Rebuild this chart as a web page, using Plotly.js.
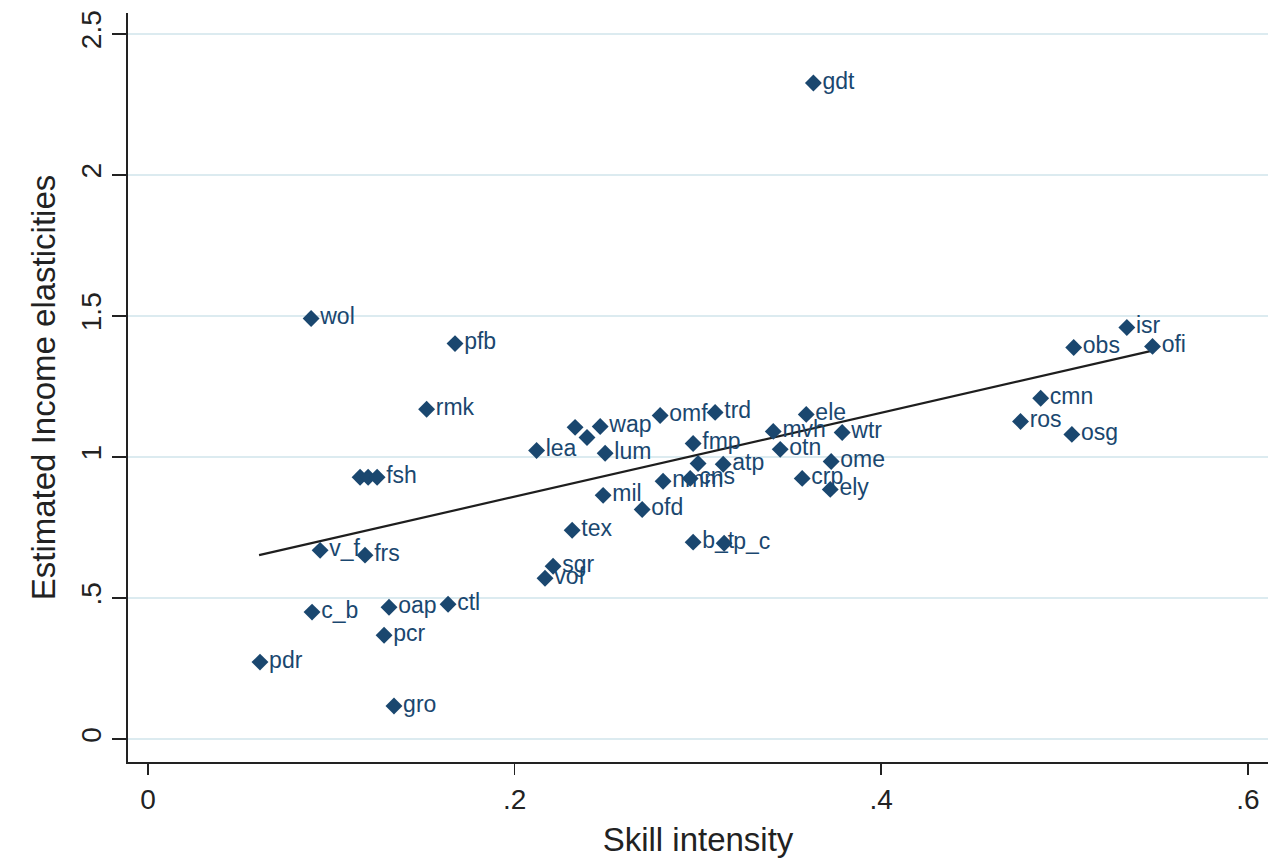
<!DOCTYPE html>
<html>
<head>
<meta charset="utf-8">
<script src="https://cdn.plot.ly/plotly-3.0.1.min.js"></script>
<style>
html,body{margin:0;padding:0;background:#fff;}
#chart{width:1270px;height:860px;}
</style>
</head>
<body>
<div id="chart"></div>
<script>
// Industry codes (empty string = unlabeled, overlapping point)
var labels = ['gdt','wol','pfb','rmk','isr','obs','ofi','cmn','ros','osg',
  'lea','','','wap','lum','omf','trd','fmp','','atp',
  'nmm','cns','mil','ofd','tex','b_t','p_c','sgr','vof',
  'ele','mvh','otn','wtr','ome','crp','ely',
  '','','fsh','v_f','frs','c_b','oap','ctl','pcr','pdr','gro'];
// Skill intensity (x)
var skill = [0.363,0.089,0.1675,0.152,0.534,0.505,0.548,0.487,0.476,0.504,
  0.212,0.233,0.2395,0.2467,0.2494,0.2794,0.3094,0.2974,0.3001,0.3138,
  0.281,0.2958,0.2483,0.2696,0.2314,0.2974,0.3143,0.221,0.2166,
  0.3591,0.3411,0.3449,0.3787,0.3727,0.3569,0.3722,
  0.1157,0.1201,0.125,0.0939,0.1184,0.0895,0.1315,0.1637,0.1288,0.0611,0.1342];
// Estimated income elasticities (y)
var elasticity = [2.326,1.491,1.402,1.169,1.459,1.388,1.392,1.208,1.126,1.080,
  1.023,1.105,1.069,1.108,1.013,1.147,1.158,1.048,0.977,0.974,
  0.914,0.924,0.864,0.814,0.740,0.698,0.694,0.6126,0.570,
  1.151,1.0906,1.027,1.087,0.984,0.924,0.885,
  0.928,0.928,0.928,0.669,0.652,0.450,0.467,0.478,0.368,0.2727,0.117];
// Fitted line
var fitX = [0.0606, 0.548];
var fitY = [0.652, 1.377];

var navy = '#1a476f';
var font = 'Liberation Sans, Arial, sans-serif';

var traces = [
  {
    x: fitX, y: fitY, type: 'scatter', mode: 'lines',
    line: {color: '#1e1e1e', width: 2.2},
    hoverinfo: 'skip', showlegend: false
  },
  {
    x: skill, y: elasticity, text: labels, type: 'scatter', mode: 'markers+text',
    textposition: 'middle right',
    textfont: {family: font, size: 23, color: navy},
    marker: {symbol: 'diamond', size: 13, color: navy, line: {width: 0}},
    cliponaxis: false, showlegend: false
  }
];

var layout = {
  width: 1270, height: 860,
  margin: {l: 128, r: 2, t: 13, b: 98},
  paper_bgcolor: '#ffffff', plot_bgcolor: '#ffffff',
  font: {family: font, color: '#222'},
  showlegend: false,
  xaxis: {
    range: [-0.0109, 0.611],
    tickvals: [0, 0.2, 0.4, 0.6],
    ticktext: ['0', '.2', '.4', '.6'],
    ticks: 'outside', ticklen: 11, tickwidth: 1.5, tickcolor: '#222',
    tickfont: {family: font, size: 28, color: '#222'},
    showgrid: false, zeroline: false,
    showline: true, linecolor: '#222', linewidth: 2,
    title: {text: 'Skill intensity', font: {family: font, size: 33, color: '#222'}, standoff: 14}
  },
  yaxis: {
    range: [-0.0814, 2.574],
    tickvals: [0, 0.5, 1, 1.5, 2, 2.5],
    ticktext: ['0', '.5', '1', '1.5', '2', '2.5'],
    tickangle: -90,
    ticks: 'outside', ticklen: 14, tickwidth: 1.5, tickcolor: '#222',
    tickfont: {family: font, size: 28, color: '#222'},
    showgrid: true, gridcolor: '#dcebf0', gridwidth: 2,
    zeroline: false,
    showline: true, linecolor: '#222', linewidth: 2,
    title: {text: 'Estimated Income elasticities', font: {family: font, size: 33, color: '#222'}, standoff: 10}
  }
};

Plotly.newPlot('chart', traces, layout, {staticPlot: true, displayModeBar: false});
</script>
</body>
</html>
